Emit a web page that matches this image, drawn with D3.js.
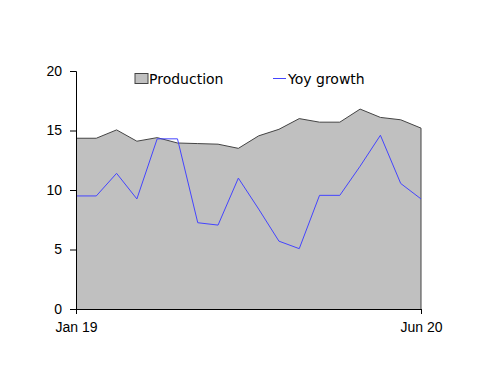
<!DOCTYPE html>
<html>
<head>
<meta charset="UTF-8">
<style>
  body { margin: 0; background: #fff; font-family: "DejaVu Sans", Verdana, sans-serif; }
  .tick text { font-size: 14px; fill: #000; }
  .legend { font-size: 14px; }
</style>
</head>
<body>
<svg width="500" height="386"></svg>
<script src="https://d3js.org/d3.v7.min.js"></script>
<script>
// months Jan 19 .. Jun 20
const months = ["Jan 19","Feb 19","Mar 19","Apr 19","May 19","Jun 19","Jul 19","Aug 19","Sep 19",
                "Oct 19","Nov 19","Dec 19","Jan 20","Feb 20","Mar 20","Apr 20","May 20","Jun 20"];
const production = [14.35, 14.35, 15.05, 14.1, 14.4, 13.95, 13.9, 13.85, 13.5,
                    14.55, 15.1, 16.0, 15.7, 15.7, 16.8, 16.1, 15.9, 15.2];
const yoyGrowth = [9.5, 9.5, 11.4, 9.25, 14.3, 14.3, 7.25, 7.05, 11.0,
                   8.4, 5.7, 5.07, 9.55, 9.55, 12.0, 14.6, 10.55, 9.25];
const yTicks = [0, 5, 10, 15, 20];

const margin = {top: 71, right: 79, bottom: 77, left: 76},
  width = 500 - margin.left - margin.right,
  height = 386 - margin.top - margin.bottom;

const svg = d3.select("svg").append("g")
  .attr("transform", "translate(" + margin.left + "," + margin.top + ")");

const x = d3.scalePoint().domain(months).range([0, width]);
const y = d3.scaleLinear().domain([0, 20]).range([height, 0]);

const data = months.map((m, i) => ({m: m, p: production[i], g: yoyGrowth[i]}));

// area
svg.append("path")
  .datum(data)
  .attr("fill", "#c0c0c0")
  .attr("d", d3.area().x(d => x(d.m)).y0(y(0)).y1(d => y(d.p)));

// top outline + right edge
svg.append("path")
  .attr("fill", "none")
  .attr("stroke", "#444")
  .attr("stroke-width", 1)
  .attr("d", d3.line().x(d => x(d.m)).y(d => y(d.p))(data) + "L" + x(months[17]) + "," + y(0));

// yoy line
svg.append("path")
  .datum(data)
  .attr("fill", "none")
  .attr("stroke", "#4444ff")
  .attr("stroke-width", 1)
  .attr("d", d3.line().x(d => x(d.m)).y(d => y(d.g)));

// axes
const yAxis = svg.append("g")
  .call(d3.axisLeft(y).tickValues(yTicks).tickSize(6).tickPadding(8));
yAxis.select(".domain").attr("stroke", "#000");

svg.append("g")
  .attr("transform", "translate(0," + height + ")")
  .call(d3.axisBottom(x).tickValues(["Jan 19", "Jun 20"]).tickSize(5).tickPadding(8).tickSizeOuter(0));

// legend
const leg = d3.select("svg").append("g").attr("class", "legend");
leg.append("rect").attr("x", 135).attr("y", 73.5).attr("width", 13).attr("height", 10)
  .attr("fill", "#c0c0c0").attr("stroke", "#444");
leg.append("text").attr("x", 149).attr("y", 84).text("Production");
leg.append("line").attr("x1", 273).attr("x2", 286).attr("y1", 78.5).attr("y2", 78.5)
  .attr("stroke", "#4444ff");
leg.append("text").attr("x", 288).attr("y", 84).text("Yoy growth");
</script>
</body>
</html>
